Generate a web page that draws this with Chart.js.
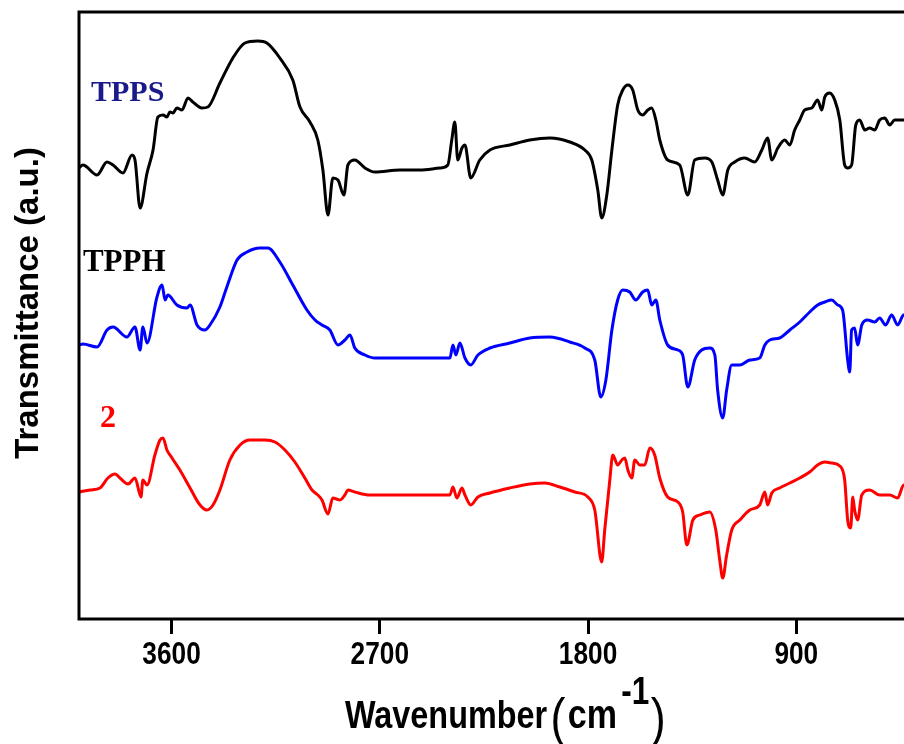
<!DOCTYPE html>
<html>
<head>
<meta charset="utf-8">
<script src="https://cdn.jsdelivr.net/npm/chart.js@4.4.1/dist/chart.umd.min.js"></script>
<style>
  html, body { margin: 0; padding: 0; overflow: hidden; background: #fff; width: 904px; height: 744px; }
  #wrap { width: 920px; height: 744px; position: relative; }
</style>
</head>
<body>
<div id="wrap"><canvas id="c"></canvas></div>
<script>
// FTIR spectra (offset vertically, arbitrary transmittance units)
const wnTicks = [3600, 2700, 1800, 900];

const tppsWn = [4000,3983,3922,3879,3853,3810,3771,3758,3736,3706,3680,3659,3637,3620,3607,3594,3577,3555,3529,3508,3469,3443,3391,3335,3283,3227,3188,3132,3076,3045,3002,2968,2946,2924,2903,2881,2855,2838,2808,2764,2721,2613,2527,2440,2406,2389,2376,2363,2345,2332,2307,2268,2224,2138,2052,1965,1879,1814,1784,1758,1741,1719,1697,1672,1650,1628,1607,1585,1564,1542,1525,1507,1490,1456,1404,1369,1339,1296,1265,1240,1218,1196,1166,1123,1080,1049,1024,1006,980,950,928,907,885,864,833,808,790,777,756,734,712,691,678,661,643,626,604,583,561,540,518,496,475,436,400];
const tppsT  = [451,454,444,457,454,446,464,459,411,446,469,502,504,502,507,506,511,509,521,517,511,512,536,561,576,578,576,561,539,512,497,479,449,404,441,439,424,454,459,451,447,449,449,451,454,479,497,459,471,474,441,459,469,474,479,481,477,469,459,429,401,424,469,514,529,534,529,509,504,509,511,499,479,459,454,424,459,461,457,439,424,449,457,461,457,469,481,459,471,479,474,489,499,509,511,519,509,522,526,519,499,454,451,454,494,499,489,491,489,499,501,494,499,499,499];

const tpphWn = [4000,3983,3922,3879,3853,3793,3758,3736,3724,3706,3663,3641,3628,3616,3577,3533,3520,3490,3456,3434,3391,3361,3317,3274,3218,3184,3132,3076,3015,2980,2950,2916,2881,2851,2829,2808,2764,2721,2613,2440,2397,2384,2371,2354,2332,2307,2276,2224,2138,2052,1965,1879,1814,1771,1745,1723,1697,1672,1650,1620,1594,1564,1542,1525,1507,1490,1456,1412,1391,1369,1339,1309,1274,1252,1240,1218,1201,1179,1144,1101,1058,1036,1015,972,928,885,842,808,777,747,721,700,678,669,661,648,635,617,592,561,540,514,488,462,436,400];
const tpphT  = [274,275,272,289,292,282,292,269,292,276,322,334,319,324,314,311,314,294,289,294,312,332,359,367,371,371,357,334,309,299,294,289,274,279,284,271,264,261,261,261,261,274,264,276,261,254,264,271,276,281,282,277,271,259,222,239,289,319,329,327,319,327,329,314,319,299,274,269,264,232,259,269,271,264,229,201,229,254,254,259,261,274,279,281,289,297,307,314,317,319,314,309,259,247,289,291,274,294,299,297,301,294,304,294,304,300];

const c2Wn = [4000,3952,3909,3875,3844,3823,3788,3758,3732,3724,3706,3672,3650,3637,3620,3598,3564,3520,3477,3447,3421,3391,3348,3304,3261,3196,3153,3110,3067,3024,2993,2968,2950,2924,2903,2872,2851,2838,2808,2743,2613,2440,2397,2384,2367,2345,2332,2307,2276,2224,2138,2052,1987,1922,1857,1801,1771,1741,1728,1706,1693,1672,1654,1641,1628,1611,1598,1576,1555,1533,1512,1490,1456,1412,1391,1373,1347,1317,1274,1248,1231,1218,1201,1179,1144,1101,1058,1036,1024,1006,972,928,885,842,808,777,747,712,691,678,665,656,648,635,617,583,540,496,462,436,400];
const c2T  = [127,129,131,141,145,141,135,141,122,139,134,164,179,181,169,161,149,131,114,109,114,129,159,174,179,179,177,169,157,141,129,124,119,105,121,119,124,129,127,124,124,124,124,132,121,131,124,114,122,126,131,135,136,132,127,122,109,57,89,139,164,154,159,161,149,141,159,154,154,171,164,141,122,117,107,74,99,104,107,89,59,41,64,89,99,109,114,127,114,126,131,136,141,147,154,157,156,153,139,99,91,122,109,99,124,129,124,124,121,134,134];

const seriesNames = ['TPPS', 'TPPH', '2'];
const seriesColors = ['#000000', '#0000ff', '#ff0000'];

function toPoints(xs, ys) { return xs.map((x, i) => ({ x: x, y: ys[i] })); }

const sans = "'Liberation Sans', Arial, sans-serif";
const condense = 0.83;   // narrow lettering for the x axis

// Frame, x tick labels, axis titles and curve labels
const decorations = {
  id: 'decorations',
  afterDraw(chart) {
    const ctx = chart.ctx;
    const a = chart.chartArea;
    const xs = chart.scales.x, ys = chart.scales.y;
    ctx.save();
    ctx.strokeStyle = '#000';
    ctx.lineWidth = 3;
    ctx.strokeRect(a.left, a.top, a.right - a.left, a.bottom - a.top);

    // x tick labels, condensed bold
    ctx.fillStyle = '#000';
    ctx.textAlign = 'center';
    ctx.textBaseline = 'alphabetic';
    ctx.font = "bold 32px " + sans;
    xs.ticks.forEach(t => {
      ctx.save();
      ctx.translate(xs.getPixelForValue(t.value), 664);
      ctx.scale(condense - 0.01, 1);
      ctx.fillText(String(t.value), 0, 0);
      ctx.restore();
    });

    // y title
    ctx.save();
    ctx.translate(29, 303);
    ctx.rotate(-Math.PI / 2);
    ctx.font = "bold 33px " + sans;
    ctx.textAlign = 'center';
    ctx.textBaseline = 'middle';
    ctx.fillText('Transmittance (a.u.)', 0, 0);
    ctx.restore();

    // x title with superscript
    ctx.save();
    ctx.translate(345, 728);
    ctx.scale(condense, 1);
    ctx.textAlign = 'left';
    let x = 0;
    ctx.font = "bold 39px " + sans;
    ctx.fillText('Wavenumber', x, 0);
    x += ctx.measureText('Wavenumber').width + 4;
    ctx.font = "54px " + sans;
    ctx.fillText('(', x, 8);
    x += ctx.measureText('(').width + 3;
    ctx.font = "bold 41px " + sans;
    ctx.fillText('cm', x, 0);
    x += ctx.measureText('cm').width + 5;
    ctx.font = "bold 38px " + sans;
    ctx.fillText('-1', x, -24);
    x += ctx.measureText('-1').width + 2;
    ctx.font = "54px " + sans;
    ctx.fillText(')', x, 8);
    ctx.restore();

    // curve labels
    const labels = [
      { text: seriesNames[0], color: '#1a1a8a', wn: 3948, v: 518, size: 30 },
      { text: seriesNames[1], color: '#000000', wn: 3983, v: 348, size: 31 },
      { text: seriesNames[2], color: '#ff0000', wn: 3909, v: 192, size: 32 }
    ];
    ctx.textAlign = 'left';
    labels.forEach(l => {
      ctx.font = "bold " + l.size + "px 'Liberation Serif', 'Times New Roman', serif";
      ctx.fillStyle = l.color;
      ctx.fillText(l.text, xs.getPixelForValue(l.wn), ys.getPixelForValue(l.v));
    });
    ctx.restore();
  }
};

const datasets = [
  toPoints(tppsWn, tppsT),
  toPoints(tpphWn, tpphT),
  toPoints(c2Wn, c2T)
].map((pts, i) => ({
  label: seriesNames[i],
  data: pts,
  borderColor: seriesColors[i],
  borderWidth: 3,
  pointRadius: 0,
  fill: false,
  cubicInterpolationMode: 'monotone'
}));

new Chart(document.getElementById('c'), {
  type: 'line',
  data: { datasets: datasets },
  options: {
    responsive: true,
    maintainAspectRatio: false,
    animation: false,
    devicePixelRatio: 1,
    layout: { padding: { left: 0, right: 8, top: 12, bottom: 0 } },
    plugins: { legend: { display: false }, tooltip: { enabled: false } },
    scales: {
      x: {
        type: 'linear',
        reverse: true,
        min: 400,
        max: 4000,
        afterBuildTicks: s => { s.ticks = wnTicks.map(v => ({ value: v })); },
        afterFit: s => { s.height = 125; },
        border: { display: false },
        grid: { drawOnChartArea: false, drawTicks: true, tickLength: 15, tickWidth: 3, tickColor: '#000' },
        ticks: { display: false }
      },
      y: {
        min: 0,
        max: 607,
        afterFit: s => { s.width = 79; },
        border: { display: false },
        grid: { display: false },
        ticks: { display: false }
      }
    }
  },
  plugins: [decorations]
});
</script>
</body>
</html>
